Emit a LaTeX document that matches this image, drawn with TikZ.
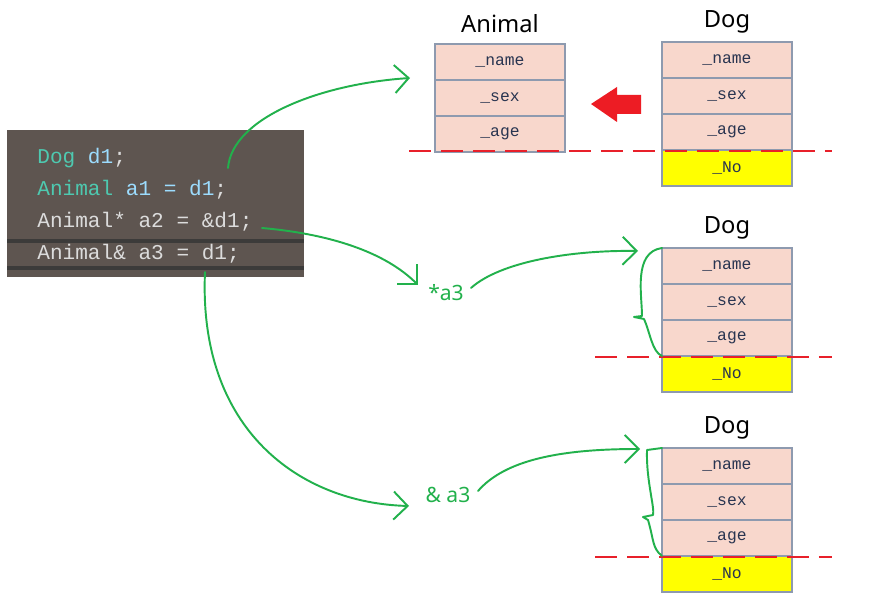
\documentclass[tikz,border=0pt]{standalone}
\usepackage{fontspec}
\usetikzlibrary{arrows.meta,positioning}
\newfontfamily\codefont{Liberation Mono}
\newfontfamily\labelfont{Noto Sans}
\definecolor{codebg}{HTML}{5E5550}
\definecolor{codebar}{HTML}{3C3B3A}
\definecolor{kwteal}{HTML}{4EC9B0}
\definecolor{varblue}{HTML}{9CDCFE}
\definecolor{plaintext}{HTML}{DCDCDC}
\definecolor{cellfill}{HTML}{F8D7CC}
\definecolor{cellline}{HTML}{8E9AAF}
\definecolor{celltext}{HTML}{283450}
\definecolor{extrafill}{HTML}{FFFF00}
\definecolor{cutred}{HTML}{E8202A}
\definecolor{bigred}{HTML}{ED1C24}
\definecolor{ink}{HTML}{22B14C}
\tikzset{
  cell/.style={draw=cellline, line width=1.4pt, fill=cellfill, outer sep=0pt,
    minimum width=2.6cm, minimum height=0.72cm, inner sep=0pt, text=celltext,
    font=\codefont\fontsize{9.3}{11}\selectfont},
  extracell/.style={cell, fill=extrafill},
  classtitle/.style={font=\labelfont\fontsize{13.5}{16}\selectfont, inner sep=1pt},
  codebox/.style={fill=codebg, minimum width=5.94cm, minimum height=2.94cm, inner sep=0pt},
  codeline/.style={anchor=west, inner sep=0pt, text=plaintext,
    font=\codefont\fontsize{12}{14}\selectfont},
  cutline/.style={draw=cutred, line width=1pt, dash pattern=on 0.44cm off 0.2cm},
  inkline/.style={draw=ink, line width=1.1pt, line cap=round, line join=round},
  inkarr/.style={inkline, -{Straight Barb[length=2.8mm,width=5.6mm]}},
  inklabel/.style={text=ink, font=\labelfont\fontsize{12}{14}\selectfont, inner sep=1pt}
}
\begin{document}
\begin{tikzpicture}[x=0.02cm, y=-0.02cm, node distance=0pt]
  \fill[white] (0,0) rectangle (879,614);
  \useasboundingbox (0,0) rectangle (879,614);

  \node[codebox] (code) at (155.5,203.5) {};
  \fill[codebar] (7,239) rectangle (304,243);
  \fill[codebar] (7,266) rectangle (304,270);
  \node[codeline] (line1) at (37,158) {\textcolor{kwteal}{Dog} \textcolor{varblue}{d1};};
  \node[codeline] (line2) at (37,190) {\textcolor{kwteal}{Animal} \textcolor{varblue}{a1 = d1};};
  \node[codeline] (line3) at (37,222) {Animal* a2 = \&d1;};
  \node[codeline] (line4) at (37,254) {Animal\& a3 = d1;};

  \node[cell] (aname) at (500,62) {\_name};
  \node[cell, below=of aname] (asex) {\_sex};
  \node[cell, below=of asex] (aage) {\_age};
  \node[classtitle] (atitle) at (500,24) {Animal};

  \node[cell] (dname) at (727,60) {\_name};
  \node[cell, below=of dname] (dsex) {\_sex};
  \node[cell, below=of dsex] (dage) {\_age};
  \node[extracell, below=of dage] (dno) {\_No};
  \node[classtitle] (dtitle) at (727,22) {Dog};

  \node[cell] (pname) at (727,266) {\_name};
  \node[cell, below=of pname] (psex) {\_sex};
  \node[cell, below=of psex] (page) {\_age};
  \node[extracell, below=of page] (pno) {\_No};
  \node[classtitle] (ptitle) at (727,228) {Dog};

  \node[cell] (rname) at (727,466) {\_name};
  \node[cell, below=of rname] (rsex) {\_sex};
  \node[cell, below=of rsex] (rage) {\_age};
  \node[extracell, below=of rage] (rno) {\_No};
  \node[classtitle] (rtitle) at (727,428) {Dog};

  \draw[cutline] (409,151) -- (832,151);
  \draw[cutline] (595,357) -- (832,357);
  \draw[cutline] (595,557) -- (832,557);

  \fill[bigred] (591,104) -- (617,87) -- (617,95) -- (641,95) -- (641,114)
    -- (617,114) -- (617,122) -- cycle;

  \node[inklabel] (ptr) at (446,293) {*a3};
  \node[inklabel] (ref) at (448,495) {\& a3};

  \coordinate (from1) at (228,168);
  \coordinate (to1) at (410,78);
  \coordinate (from2) at (262,228);
  \coordinate (to2) at (418,285);
  \coordinate (from3) at (471,288);
  \coordinate (to3) at (638,251);
  \coordinate (from4) at (205,272);
  \coordinate (to4) at (409,506);
  \coordinate (from5) at (478,491);
  \coordinate (to5) at (640,449);

  \draw[inkarr] (from1) .. controls (232,118) and (320,84) .. (to1);
  \draw[inkarr] (from2) .. controls (330,234) and (385,252) .. (to2);
  \draw[inkarr] (from3) .. controls (500,262) and (570,250) .. (to3);
  \draw[inkarr] (from4) .. controls (198,430) and (300,503) .. (to4);
  \draw[inkarr] (from5) .. controls (505,460) and (560,449) .. (to5);

  \draw[inkline] (pname.north west) .. controls (633,252) and (642,295) .. (642,316)
    -- (634,317) -- (644,319) .. controls (650,332) and (652,352) .. (page.south west);
  \draw[inkline] (rname.north west) -- (647,450) .. controls (646,480) and (655,508) .. (653,515)
    -- (643,517) -- (648,520) .. controls (654,540) and (652,548) .. (rage.south west);
\end{tikzpicture}
\end{document}
